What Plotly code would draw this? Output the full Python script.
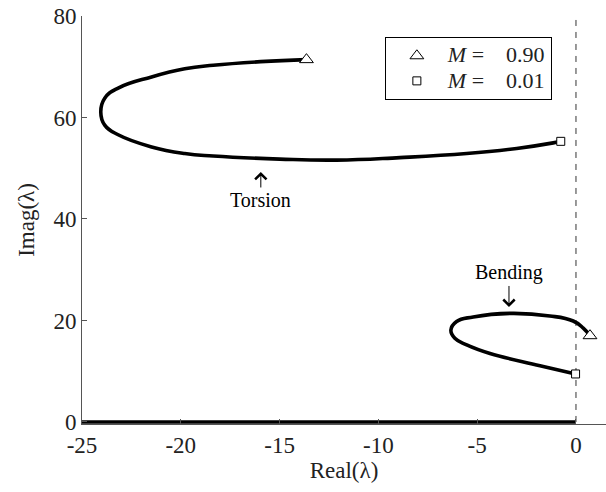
import plotly.graph_objects as go

# Eigenvalue loci in the complex plane as M goes from 0.01 to 0.90
torsion_re = [-0.77, -1.15, -3.0, -5.53, -8.91, -12.12, -14.99, -18.36, -19.8,
              -21.48, -23.17, -23.85, -24.05, -23.85, -23.17, -21.48, -19.8,
              -18.36, -15.96, -13.64]
torsion_im = [55.3, 55.0, 53.9, 52.9, 52.1, 51.6, 51.8, 52.4, 52.9,
              54.2, 56.6, 58.5, 61.1, 63.8, 65.8, 68.0, 69.6,
              70.3, 71.0, 71.4]

bending_re = [-0.02, -1.82, -4.35, -5.53, -6.13, -6.33, -6.04, -5.2, -3.34,
              -1.32, -0.14, 0.37, 0.71]
bending_im = [9.46, 11.1, 13.5, 15.2, 16.5, 18.1, 19.8, 20.7, 21.4,
              20.9, 19.9, 18.5, 17.0]

# Real eigenvalues lying on the negative real axis
real_re = [-25, 0]
real_im = [0, 0]

x_ticks = [-25, -20, -15, -10, -5, 0]
x_ticklabels = ["-25", "-20", "-15", "-10", "-5", "0"]
y_ticks = [0, 20, 40, 60, 80]

SERIF = "Liberation Serif"
INK = "#222222"

fig = go.Figure()

line_style = dict(color="black", width=3.6)
fig.add_trace(go.Scatter(x=real_re, y=real_im, mode="lines", line=line_style,
                         showlegend=False, hoverinfo="skip"))
fig.add_trace(go.Scatter(x=torsion_re, y=torsion_im, mode="lines",
                         line=dict(line_style, shape="spline", smoothing=1.3),
                         showlegend=False))
fig.add_trace(go.Scatter(x=bending_re, y=bending_im, mode="lines",
                         line=dict(line_style, shape="spline", smoothing=1.3),
                         showlegend=False))


def legend_label(value):
    return ('<span style="font-size:22px"><i>M</i>\u2005=\u2003'
            + value + '</span>')


# End-point markers (legend entries)
fig.add_trace(go.Scatter(
    x=[torsion_re[-1], bending_re[-1]], y=[torsion_im[-1], bending_im[-1]],
    mode="markers", name=legend_label("0.90"),
    marker=dict(symbol="triangle-up", size=12, color="white",
                line=dict(color="black", width=1)),
    cliponaxis=False))
fig.add_trace(go.Scatter(
    x=[torsion_re[0], bending_re[0]], y=[torsion_im[0], bending_im[0]],
    mode="markers", name=legend_label("0.01"),
    marker=dict(symbol="square", size=8, color="white",
                line=dict(color="black", width=1)),
    cliponaxis=False))

# Stability boundary Re(lambda) = 0
fig.add_shape(type="line", xref="x", yref="y", x0=0, x1=0, y0=0, y1=80,
              line=dict(color="#333333", width=1, dash="6px,6px"), layer="below")

arrow_style = dict(showarrow=True, arrowhead=4, arrowsize=2.2, arrowwidth=1.0,
                   arrowcolor="black", standoff=0,
                   font=dict(family=SERIF, size=20, color="black"))
fig.add_annotation(x=-15.95, y=49.26, ax=0, ay=28, text="Torsion", **arrow_style)
fig.add_annotation(x=-3.39, y=22.66, ax=0, ay=-34, text="Bending", **arrow_style)

axis_common = dict(showgrid=False, zeroline=False, showline=True,
                   linecolor="#555555", linewidth=1, mirror=False,
                   ticks="inside", ticklen=5, tickcolor="#555555", tickwidth=1,
                   tickfont=dict(family=SERIF, size=23, color=INK))

fig.update_layout(
    width=606, height=492,
    margin=dict(l=82, r=0, t=16, b=68),
    paper_bgcolor="white", plot_bgcolor="white",
    font=dict(family=SERIF, color=INK),
    xaxis=dict(axis_common, range=[-25, 1.52], tickvals=x_ticks,
               ticktext=x_ticklabels,
               title=dict(text="Real(λ)", standoff=4,
                          font=dict(family=SERIF, size=23, color=INK))),
    yaxis=dict(axis_common, range=[-0.4, 80], tickvals=y_ticks,
               title=dict(text="Imag(λ)", standoff=12,
                          font=dict(family=SERIF, size=23, color=INK))),
    legend=dict(x=0.578, y=0.948, xanchor="left", yanchor="top",
                bgcolor="white", bordercolor="black", borderwidth=1,
                itemwidth=52, font=dict(family=SERIF, size=17, color=INK)),
    showlegend=True,
)

fig.write_html("out.html")
